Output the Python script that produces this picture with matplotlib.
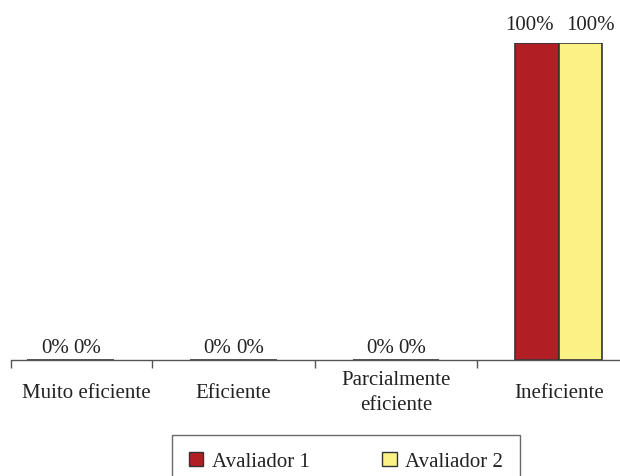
import numpy as np
import matplotlib.pyplot as plt
from matplotlib.patches import Patch
import matplotlib.transforms as mtransforms

plt.rcParams['font.family'] = ['Liberation Serif', 'DejaVu Serif']

categories = ['Muito eficiente', 'Eficiente', 'Parcialmente\neficiente', 'Ineficiente']
avaliador1 = [0, 0, 0, 100]
avaliador2 = [0, 0, 0, 100]
series_names = ['Avaliador 1', 'Avaliador 2']

RED = '#B11F24'
YELLOW = '#FAF285'
EDGE = '#333333'
FS = 15

fig = plt.figure(figsize=(6.2, 4.77), dpi=100)
ax = fig.add_axes([11 / 620, 1 - 361 / 477, 609 / 620, 317 / 477])

x = np.arange(len(categories))
w = 0.267
b1 = ax.bar(x - w / 2, avaliador1, w, color=RED, edgecolor=EDGE, linewidth=1.2)
b2 = ax.bar(x + w / 2, avaliador2, w, color=YELLOW, edgecolor=EDGE, linewidth=1.2)

# value labels above each bar; pairs are nudged apart so they don't collide
for k, (bars, vals) in enumerate(((b1, avaliador1), (b2, avaliador2))):
    for rect, v in zip(bars, vals):
        if v > 0:
            dx, dy = (-7, 9) if k == 0 else (10, 9)
        else:
            dx, dy = (6, 3) if k == 0 else (-5, 3)
        ax.annotate('%d%%' % v, xy=(rect.get_x() + rect.get_width() / 2, v),
                    xytext=(dx, dy), textcoords='offset pixels',
                    ha='center', va='bottom', fontsize=FS, color='#222222')

for s in ('left', 'right', 'top'):
    ax.spines[s].set_visible(False)
ax.spines['bottom'].set_color('#555555')
ax.spines['bottom'].set_linewidth(1.0)
ax.set_yticks([])

# boundary ticks between categories
ax.set_xticks([-0.366, 0.5, 1.5, 2.5, 3.5])
ax.set_xticklabels([])
ax.tick_params(axis='x', direction='out', length=6, width=1.0, color='#555555')

ax.set_xlim(-0.366, 3.377)
ax.set_ylim(0, 100)

# category names centred vertically under the axis; the first one is
# pushed right so it sits inside the visible part of its slot
trans = mtransforms.blended_transform_factory(ax.transData, ax.transAxes)
for i, (xi, name) in enumerate(zip(x, categories)):
    t = trans
    if i == 0:
        t = trans + mtransforms.ScaledTranslation(0.16, 0, fig.dpi_scale_trans)
    ax.text(xi, -0.101, name, transform=t, ha='center', va='center',
            multialignment='center', fontsize=FS, color='#222222',
            linespacing=1.4)

handles = [Patch(facecolor=RED, edgecolor=EDGE, linewidth=1.0),
           Patch(facecolor=YELLOW, edgecolor=EDGE, linewidth=1.0)]
leg = fig.legend(handles, series_names, loc='upper left',
                 bbox_to_anchor=(172 / 620, 1 - 436 / 477), ncol=2,
                 fontsize=FS, frameon=True, fancybox=False, shadow=False,
                 borderaxespad=0, borderpad=0.8, handlelength=0.7,
                 handleheight=0.7, handletextpad=0.4, columnspacing=3.5)
leg.get_frame().set_edgecolor('#444444')
leg.get_frame().set_linewidth(1.0)
for t in leg.get_texts():
    t.set_color('#222222')

fig.savefig('out.png', dpi=100)
